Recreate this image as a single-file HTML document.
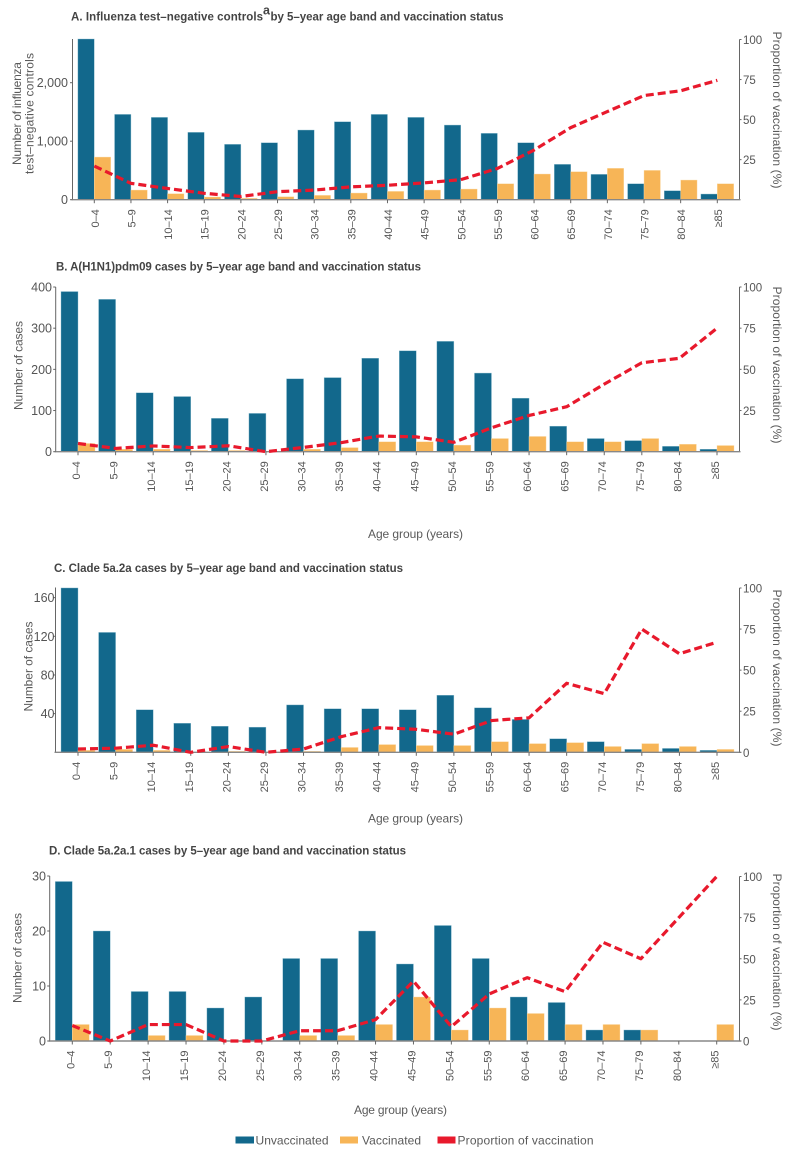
<!DOCTYPE html>
<html lang="en">
<head>
<meta charset="utf-8">
<title>Influenza cases by age band and vaccination status</title>
<style>
  html, body { margin: 0; padding: 0; background: #fff; }
  svg { display: block; }
  text { font-family: "Liberation Sans", sans-serif; fill: #555; }
  .title { font-size: 11.5px; font-weight: bold; fill: #444; }
  .axis-title { font-size: 12px; fill: #5a5a5a; }
  .legend-text { font-size: 12px; fill: #5a5a5a; }
</style>
</head>
<body>
<svg id="figure" xmlns="http://www.w3.org/2000/svg" width="800" height="1163" viewBox="0 0 800 1163">
  <rect x="0" y="0" width="800" height="1163" fill="#fff"/>

  <!-- Titles -->
  <text class="title" x="71" y="20.5" textLength="192" lengthAdjust="spacing">A. Influenza test–negative controls</text>
  <text class="title" x="263" y="14.5" style="font-size:12.5px">a</text>
  <text class="title" x="270.5" y="20.5" textLength="233" lengthAdjust="spacing">by 5–year age band and vaccination status</text>
  <text class="title" x="56" y="270.5" textLength="365" lengthAdjust="spacing">B. A(H1N1)pdm09 cases by 5–year age band and vaccination status</text>
  <text class="title" x="54" y="572" textLength="349" lengthAdjust="spacing">C. Clade 5a.2a cases by 5–year age band and vaccination status</text>
  <text class="title" x="49" y="854.5" textLength="357" lengthAdjust="spacing">D. Clade 5a.2a.1 cases by 5–year age band and vaccination status</text>

  <!-- Left axis titles -->
  <text class="axis-title" transform="translate(21,113.5) rotate(-90)" text-anchor="middle" textLength="103" lengthAdjust="spacing">Number of influenza</text>
  <text class="axis-title" transform="translate(33.5,113.5) rotate(-90)" text-anchor="middle" textLength="121" lengthAdjust="spacing">test–negative controls</text>
  <text class="axis-title" transform="translate(22.5,365.5) rotate(-90)" text-anchor="middle" textLength="89" lengthAdjust="spacing">Number of cases</text>
  <text class="axis-title" transform="translate(32.5,666.5) rotate(-90)" text-anchor="middle" textLength="90" lengthAdjust="spacing">Number of cases</text>
  <text class="axis-title" transform="translate(21.5,958) rotate(-90)" text-anchor="middle" textLength="90" lengthAdjust="spacing">Number of cases</text>

  <!-- Right axis titles -->
  <text class="axis-title" transform="translate(773,110) rotate(90)" text-anchor="middle" textLength="157" lengthAdjust="spacing">Proportion of vaccination (%)</text>
  <text class="axis-title" transform="translate(773,365) rotate(90)" text-anchor="middle" textLength="157" lengthAdjust="spacing">Proportion of vaccination (%)</text>
  <text class="axis-title" transform="translate(773,668) rotate(90)" text-anchor="middle" textLength="157" lengthAdjust="spacing">Proportion of vaccination (%)</text>
  <text class="axis-title" transform="translate(773,952) rotate(90)" text-anchor="middle" textLength="157" lengthAdjust="spacing">Proportion of vaccination (%)</text>

  <!-- X axis titles -->
  <text class="axis-title" x="368" y="538" textLength="95" lengthAdjust="spacing">Age group (years)</text>
  <text class="axis-title" x="368" y="822.5" textLength="95" lengthAdjust="spacing">Age group (years)</text>
  <text class="axis-title" x="354" y="1114" textLength="93" lengthAdjust="spacing">Age group (years)</text>

  <!-- Legend -->
  <g>
    <rect x="235.5" y="1136.5" width="18.5" height="7" fill="#12688c"/>
    <text class="legend-text" x="255.5" y="1144.5" textLength="73" lengthAdjust="spacing">Unvaccinated</text>
    <rect x="340" y="1136.5" width="18" height="7" fill="#f7b557"/>
    <text class="legend-text" x="362" y="1144.5" textLength="59" lengthAdjust="spacing">Vaccinated</text>
    <rect x="437.5" y="1136.5" width="18" height="7" fill="#e8192c"/>
    <text class="legend-text" x="457.5" y="1144.5" textLength="136" lengthAdjust="spacing">Proportion of vaccination</text>
  </g>

  <g id="panels"></g>
</svg>

<script>
// Shared categories
var ageBands = ["0–4","5–9","10–14","15–19","20–24","25–29","30–34","35–39","40–44","45–49","50–54","55–59","60–64","65–69","70–74","75–79","80–84","≥85"];

// Panel A
var aUnvaccinated = [2747,1458,1407,1151,946,974,1191,1333,1458,1407,1276,1134,974,604,433,273,154,97];
var aVaccinated   = [729,165,103,46,23,51,74,114,142,165,182,273,439,479,536,501,336,273];
var aProportion   = [21,10.2,7,4,2,5,6,8,9,10.5,12.5,19.5,31,45,55,65,68,74.5];
var aLeftTicks    = [0,1000,2000];
var aRightTicks   = [25,50,75,100];

// Panel B
var bUnvaccinated = [389,370,143,134,81,93,177,180,227,245,268,191,130,62,32,27,13,6];
var bVaccinated   = [20,6,6,3,3,1,6,10,24,24,16,32,37,24,24,32,18,15];
var bProportion   = [5,2,3.5,2.5,3.6,0,2.6,5.5,9.5,9,5.7,14.5,22,27.3,41,54,56.7,75];
var bLeftTicks    = [0,100,200,300,400];
var bRightTicks   = [25,50,75,100];

// Panel C
var cUnvaccinated = [170,124,44,30,27,26,49,45,45,44,59,46,34,14,11,3,4,2];
var cVaccinated   = [2,3,2,0,1,0,1,5,8,7,7,11,9,10,6,9,6,3];
var cProportion   = [2,2.5,4.3,0,3.5,0,2,9.5,15,14,11,19.3,21,42,35.7,75,60,67];
var cLeftTicks    = [40,80,120,160];
var cRightTicks   = [0,25,50,75,100];

// Panel D
var dUnvaccinated = [29,20,9,9,6,8,15,15,20,14,21,15,8,7,2,2,0,0];
var dVaccinated   = [3,0,1,1,0,0,1,1,3,8,2,6,5,3,3,2,0,3];
var dProportion   = [9.4,0,10,10,0,0,6.25,6.25,13,36.4,8.7,28.6,38.5,30,60,50,null,100];
var dLeftTicks    = [0,10,20,30];
var dRightTicks   = [0,25,50,75,100];

var SVGNS = "http://www.w3.org/2000/svg";

function make(tag, parent, attrs) {
  var el = document.createElementNS(SVGNS, tag);
  for (var k in attrs) el.setAttribute(k, attrs[k]);
  parent.appendChild(el);
  return el;
}

function drawPanel(opt) {
  var root = document.getElementById("panels");
  var g = make("g", root, {});
  
  

  // Axis functions
  function xScale(i) {
    return opt.firstX + (opt.lastX - opt.firstX) * i / (ageBands.length - 1);
  }
  function yLeft(v) {
    return opt.baseY - v * opt.pxPerUnit;
  }
  function yRight(p) {
    return opt.baseY - p * (opt.baseY - opt.right100Y) / 100;
  }

  // Bars
  ageBands.forEach(function (band, i) {
    var cx = xScale(i);
    var u = opt.unvaccinated[i];
    var v = opt.vaccinated[i];
    if (u > 0) {
      var top = Math.max(yLeft(u), opt.topY);
      var ub = make("rect", g, { x: cx - opt.barW, y: top, width: opt.barW, height: opt.baseY - top, fill: "#12688c", stroke: "#8fbfd0", "stroke-width": 0.4 });
      
      
    }
    if (v > 0) {
      var vb = make("rect", g, { x: cx, y: yLeft(v), width: opt.barW, height: opt.baseY - yLeft(v), fill: "#f7b557", stroke: "#fbdcaa", "stroke-width": 0.4 });
      
      
    }
  });

  // Axes
  var leftAxis = make("line", g, { x1: opt.leftX, x2: opt.leftX, y1: opt.topY, y2: opt.baseY, stroke: "#666", "stroke-width": 1 });
  
  
  var rightAxis = make("line", g, { x1: opt.rightX, x2: opt.rightX, y1: opt.right100Y, y2: opt.baseY, stroke: "#666", "stroke-width": 1 });
  
  
  var xAxis = make("line", g, { x1: opt.leftX - 1, x2: opt.rightX + 1, y1: opt.baseY, y2: opt.baseY, stroke: "#888", "stroke-width": 1.4 });
  
  

  // Left ticks
  opt.leftTicks.forEach(function (t) {
    var y = yLeft(t);
    var tick = make("line", g, { x1: opt.leftX - 2.5, x2: opt.leftX, y1: y, y2: y, stroke: "#666", "stroke-width": 1 });
    
    
    var label = make("text", g, { x: opt.leftLabelX, y: y + 4.5, "text-anchor": "end", "font-size": 12.5 });
    label.textContent = t >= 1000 ? String(t).replace(/(\d)(\d{3})$/, "$1,$2") : String(t);
    
    
  });

  // Right ticks
  opt.rightTicks.forEach(function (t) {
    var y = yRight(t);
    var tick = make("line", g, { x1: opt.rightX, x2: opt.rightX + 2, y1: y, y2: y, stroke: "#666", "stroke-width": 1 });
    
    
    var label = make("text", g, { x: 743, y: y + 4.5, "font-size": 11.5 });
    label.textContent = String(t);
    
    
  });

  // Category ticks and labels
  ageBands.forEach(function (band, i) {
    var cx = xScale(i);
    var tick = make("line", g, { x1: cx, x2: cx, y1: opt.baseY, y2: opt.baseY + 3.5, stroke: "#666", "stroke-width": 1 });
    
    
    var lx = cx + opt.labelDx;
    var ly = opt.baseY + 9.5;
    var label = make("text", g, { transform: "translate(" + lx + "," + ly + ") rotate(-90)", "text-anchor": "end", "font-size": 11 });
    label.textContent = band;
    
    
  });

  // Proportion line (skips missing values)
  var pts = [];
  opt.proportion.forEach(function (p, i) {
    if (p !== null) pts.push(xScale(i).toFixed(2) + "," + yRight(p).toFixed(2));
  });
  var line = make("polyline", g, { points: pts.join(" "), fill: "none", stroke: "#e8192c", "stroke-width": 3.2, "stroke-dasharray": "8 4", "stroke-linejoin": "round" });
  
  
}

drawPanel({ id: "panel-a", unvaccinated: aUnvaccinated, vaccinated: aVaccinated, proportion: aProportion, leftTicks: aLeftTicks, rightTicks: aRightTicks,
  firstX: 94.3, lastX: 717.3, barW: 16.4, leftX: 72.5, rightX: 739.5, baseY: 199.7, topY: 39, right100Y: 39.5, pxPerUnit: 0.0585, leftLabelX: 68, labelDx: 4.5 });
drawPanel({ id: "panel-b", unvaccinated: bUnvaccinated, vaccinated: bVaccinated, proportion: bProportion, leftTicks: bLeftTicks, rightTicks: bRightTicks,
  firstX: 78, lastX: 717, barW: 17, leftX: 55.7, rightX: 739.5, baseY: 451.7, topY: 287, right100Y: 287, pxPerUnit: 0.4117, leftLabelX: 52, labelDx: 2 });
drawPanel({ id: "panel-c", unvaccinated: cUnvaccinated, vaccinated: cVaccinated, proportion: cProportion, leftTicks: cLeftTicks, rightTicks: cRightTicks,
  firstX: 78, lastX: 717, barW: 17, leftX: 55.5, rightX: 739.5, baseY: 752.3, topY: 587.5, right100Y: 588, pxPerUnit: 0.9667, leftLabelX: 54.5, labelDx: 2 });
drawPanel({ id: "panel-d", unvaccinated: dUnvaccinated, vaccinated: dVaccinated, proportion: dProportion, leftTicks: dLeftTicks, rightTicks: dRightTicks,
  firstX: 72.3, lastX: 716.7, barW: 17, leftX: 49.7, rightX: 739.5, baseY: 1041, topY: 876, right100Y: 876.5, pxPerUnit: 5.5, leftLabelX: 46, labelDx: 2 });
</script>
</body>
</html>
